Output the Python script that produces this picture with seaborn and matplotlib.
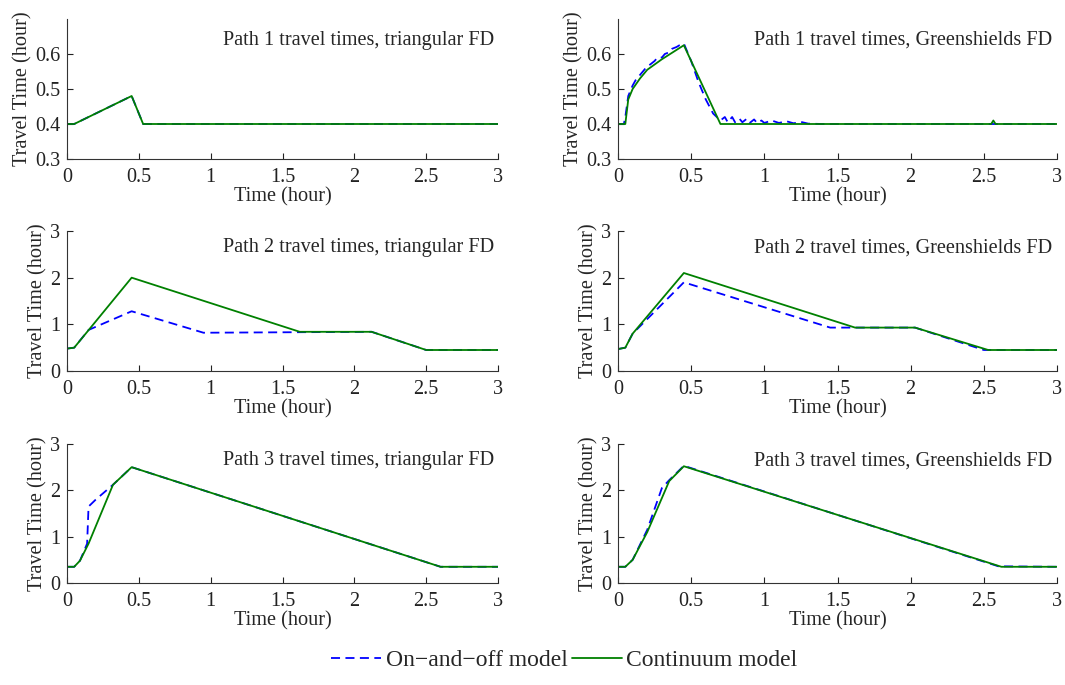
import numpy as np
import pandas as pd
import matplotlib
matplotlib.use("Agg")
import matplotlib.pyplot as plt
import seaborn as sns

# ---------------- data ----------------
# Path 1, triangular FD
p1t_cont_t = [0, 0.05, 0.45, 0.53, 3.0]
p1t_cont_y = [0.40, 0.40, 0.48, 0.40, 0.40]
p1t_onoff_t = [0, 0.05, 0.45, 0.53, 3.0]
p1t_onoff_y = [0.40, 0.40, 0.48, 0.40, 0.40]

# Path 1, Greenshields FD
p1g_cont_t = [0, 0.05, 0.07, 0.10, 0.15, 0.20, 0.30, 0.45, 0.70, 2.55, 2.565, 2.58, 3.0]
p1g_cont_y = [0.40, 0.40, 0.47, 0.50, 0.53, 0.555, 0.585, 0.625, 0.40, 0.40, 0.41, 0.40, 0.40]
p1g_onoff_t = [0, 0.04, 0.05, 0.07, 0.10, 0.12, 0.15, 0.17, 0.20, 0.22, 0.25, 0.27, 0.30,
               0.32, 0.35, 0.37, 0.40, 0.42, 0.45, 0.50, 0.55, 0.60, 0.65, 0.70,
               0.73, 0.75, 0.78, 0.80, 0.83, 0.85, 0.88, 0.90, 0.93, 0.95, 0.98,
               1.00, 1.05, 1.10, 1.15, 1.20, 1.25, 1.30, 1.40, 3.0]
p1g_onoff_y = [0.40, 0.40, 0.42, 0.48, 0.51, 0.525, 0.54, 0.55, 0.565, 0.57, 0.58, 0.59, 0.59,
               0.60, 0.605, 0.615, 0.62, 0.625, 0.63, 0.58, 0.52, 0.47, 0.43, 0.41,
               0.42, 0.405, 0.42, 0.405, 0.415, 0.405, 0.415, 0.403, 0.413, 0.403, 0.41,
               0.403, 0.41, 0.403, 0.408, 0.402, 0.406, 0.401, 0.40, 0.40]

# Path 2, triangular FD
p2t_cont_t = [0, 0.05, 0.45, 1.62, 2.12, 2.50, 3.0]
p2t_cont_y = [0.48, 0.50, 2.00, 0.84, 0.84, 0.45, 0.45]
p2t_onoff_t = [0, 0.05, 0.15, 0.45, 0.95, 2.12, 2.50, 3.0]
p2t_onoff_y = [0.48, 0.50, 0.88, 1.28, 0.82, 0.84, 0.45, 0.45]

# Path 2, Greenshields FD
p2g_cont_t = [0, 0.05, 0.10, 0.45, 1.62, 2.03, 2.53, 3.0]
p2g_cont_y = [0.47, 0.50, 0.80, 2.10, 0.93, 0.93, 0.45, 0.45]
p2g_onoff_t = [0, 0.05, 0.10, 0.45, 1.45, 2.03, 2.50, 3.0]
p2g_onoff_y = [0.47, 0.50, 0.80, 1.90, 0.93, 0.93, 0.45, 0.45]

# Path 3, triangular FD
p3t_cont_t = [0, 0.05, 0.09, 0.15, 0.32, 0.45, 2.60, 3.0]
p3t_cont_y = [0.35, 0.35, 0.48, 0.85, 2.12, 2.50, 0.35, 0.35]
p3t_onoff_t = [0, 0.05, 0.09, 0.14, 0.15, 0.20, 0.32, 0.45, 2.60, 3.0]
p3t_onoff_y = [0.35, 0.35, 0.48, 0.85, 1.65, 1.80, 2.12, 2.50, 0.35, 0.35]

# Path 3, Greenshields FD
p3g_cont_t = [0, 0.05, 0.10, 0.20, 0.35, 0.45, 2.62, 3.0]
p3g_cont_y = [0.35, 0.35, 0.50, 1.10, 2.20, 2.52, 0.35, 0.35]
p3g_onoff_t = [0, 0.05, 0.10, 0.20, 0.30, 0.35, 0.45, 2.60, 3.0]
p3g_onoff_y = [0.35, 0.35, 0.50, 1.15, 2.05, 2.22, 2.53, 0.36, 0.35]

titles = ["Path 1 travel times, triangular FD", "Path 1 travel times, Greenshields FD",
          "Path 2 travel times, triangular FD", "Path 2 travel times, Greenshields FD",
          "Path 3 travel times, triangular FD", "Path 3 travel times, Greenshields FD"]
series_names = ["On\u2212and\u2212off model", "Continuum model"]
x_ticks = [0, 0.5, 1, 1.5, 2, 2.5, 3]
x_ticklabels = ["0", "0.5", "1", "1.5", "2", "2.5", "3"]
y_ticks_row1 = [0.3, 0.4, 0.5, 0.6]
y_ticks_other = [0, 1, 2, 3]

panels = [
    (p1t_onoff_t, p1t_onoff_y, p1t_cont_t, p1t_cont_y),
    (p1g_onoff_t, p1g_onoff_y, p1g_cont_t, p1g_cont_y),
    (p2t_onoff_t, p2t_onoff_y, p2t_cont_t, p2t_cont_y),
    (p2g_onoff_t, p2g_onoff_y, p2g_cont_t, p2g_cont_y),
    (p3t_onoff_t, p3t_onoff_y, p3t_cont_t, p3t_cont_y),
    (p3g_onoff_t, p3g_onoff_y, p3g_cont_t, p3g_cont_y),
]

# ---------------- style ----------------
sns.set_style("ticks")
plt.rcParams['font.family'] = ['Liberation Serif', 'DejaVu Serif']
FS = 14.6

fig = plt.figure(figsize=(10.65, 6.85), dpi=100)

W, H = 1065, 685
col_x = [(67, 498), (618, 1057)]
row_y = [(19, 159), (231, 371), (444, 583)]

blue = (0, 0, 1)
green = (0, 0.5, 0)

handles = None
for i, (ot, oy, ct, cy) in enumerate(panels):
    r, c = divmod(i, 2)
    x0, x1 = col_x[c]
    yt, yb = row_y[r]
    ax = fig.add_axes([x0 / W, 1 - yb / H, (x1 - x0) / W, (yb - yt) / H])
    df = pd.concat([
        pd.DataFrame({"t": ot, "y": oy, "model": series_names[0]}),
        pd.DataFrame({"t": ct, "y": cy, "model": series_names[1]}),
    ])
    sns.lineplot(data=df, x="t", y="y", hue="model", style="model",
                 palette={series_names[0]: blue, series_names[1]: green},
                 dashes={series_names[0]: (5, 3), series_names[1]: ""},
                 sort=False, estimator=None, linewidth=1.3, ax=ax, legend=True)
    h, l = ax.get_legend_handles_labels()
    if handles is None:
        handles = (h, l)
    ax.get_legend().remove()
    ax.set_xlim(0, 3)
    ax.set_xticks(x_ticks)
    ax.set_xticklabels(x_ticklabels)
    if r == 0:
        ax.set_ylim(0.3, 0.7)
        ax.set_yticks(y_ticks_row1)
        ax.set_yticklabels(["0.3", "0.4", "0.5", "0.6"])
    else:
        ax.set_ylim(0, 3)
        ax.set_yticks(y_ticks_other)
    ax.tick_params(direction="in", labelsize=FS, length=4, width=0.8,
                   colors="#222222")
    ax.tick_params(axis="x", pad=6.5)
    ax.tick_params(axis="y", pad=5)
    ax.set_xlabel("Time (hour)", fontsize=FS, labelpad=0)
    ax.set_ylabel("Travel Time (hour)", fontsize=FS, labelpad=2)
    for s in ["top", "right"]:
        ax.spines[s].set_visible(False)
    for s in ["left", "bottom"]:
        ax.spines[s].set_color("#333333")
        ax.spines[s].set_linewidth(0.8)
    ty = 0.85 if r == 0 else 0.88
    ax.text(0.99, ty, titles[i], transform=ax.transAxes, ha="right", va="center",
            fontsize=FS)

h, l = handles
fig.legend(h, l, loc="center", bbox_to_anchor=(0.53, 1 - 660 / H), ncol=2,
           frameon=False, fontsize=17, handlelength=2.1, handletextpad=0.2,
           columnspacing=0.2, borderpad=0)

fig.savefig("out.png", dpi=100)
